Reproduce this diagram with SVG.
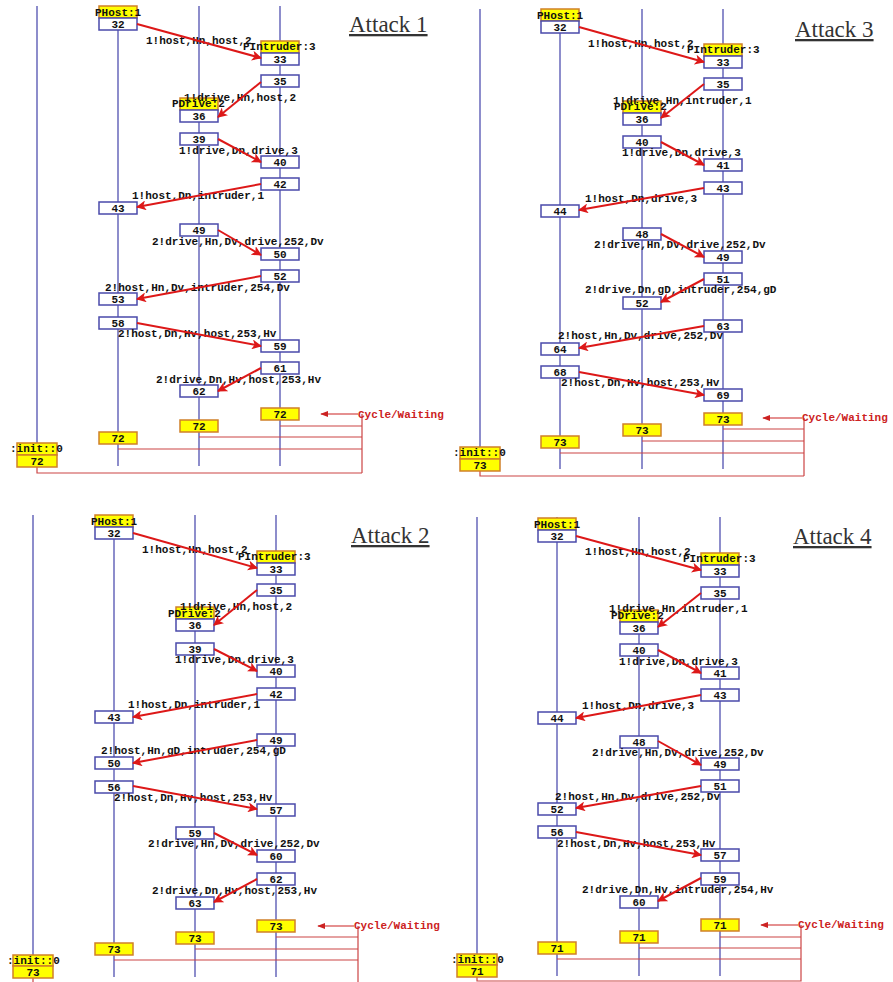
<svg xmlns="http://www.w3.org/2000/svg" width="893" height="982" viewBox="0 0 893 982">
<style>
.ll{stroke:#5050b0;stroke-width:1.3}
.bx rect{fill:#fff;stroke:#4a4aaa;stroke-width:1.5}
.yb rect{fill:#ffff00;stroke:#d08028;stroke-width:1.5}
text{font-family:"Liberation Mono","DejaVu Sans Mono",monospace;font-weight:bold;font-size:11px;fill:#111}
.c{text-anchor:middle}
.m{stroke:#dd1818;stroke-width:2;fill:none;marker-end:url(#ah)}
.lp{stroke:#cc4444;stroke-width:1.2;fill:none}
.cy{stroke:#cc2222;stroke-width:1.2;marker-end:url(#ch)}
.cyt{fill:#cc2222}
.ti{font-family:"Liberation Serif","Times New Roman",serif;font-weight:normal;font-size:23px;fill:#333;text-decoration:underline}
</style>
<defs>
<marker id="ah" viewBox="0 0 10 10" refX="9" refY="5" markerWidth="10" markerHeight="10" markerUnits="userSpaceOnUse" orient="auto"><path d="M0,0 L10,5 L0,10 L2.5,5 z" fill="#dd1818"/></marker>
<marker id="ch" viewBox="0 0 10 10" refX="9" refY="5" markerWidth="8" markerHeight="8" markerUnits="userSpaceOnUse" orient="auto"><path d="M0,1 L10,5 L0,9 z" fill="#cc2222"/></marker>
</defs>
<rect width="893" height="982" fill="#fff"/>

<!-- ================= ATTACK 1 ================= -->
<g id="a1-lifelines">
<line class="ll" x1="37" y1="6" x2="37" y2="443"/>
<line class="ll" x1="118" y1="6" x2="118" y2="466"/>
<line class="ll" x1="199" y1="6" x2="199" y2="466"/>
<line class="ll" x1="280" y1="6" x2="280" y2="466"/>
</g>
<g id="a1-loop">
<path class="lp" d="M362,414 V473 M280,426 H362 M199,437 H362 M118,449 H362 M37,467 V473 H362"/>
<line class="cy" x1="358" y1="414" x2="321" y2="414"/>
<text class="cyt" x="358" y="418">Cycle/Waiting</text>
</g>
<text class="ti" x="349" y="32">Attack 1</text>
<g id="a1-phost" class="yb"><rect x="99" y="6" width="38" height="12"/><text x="95" y="16">PHost:1</text></g>
<g id="a1-pintruder" class="yb"><rect x="261" y="41" width="38" height="12"/><text x="243" y="50">PIntruder:3</text></g>
<g id="a1-pdrive" class="yb"><rect x="180" y="98" width="38" height="12"/><text x="172" y="107">PDrive:2</text></g>
<g id="a1-32" class="bx"><rect x="99" y="18" width="38" height="12"/><text class="c" x="118" y="28">32</text></g>
<g id="a1-33" class="bx"><rect x="261" y="53" width="38" height="12"/><text class="c" x="280" y="63">33</text></g>
<g id="a1-35" class="bx"><rect x="261" y="75" width="38" height="12"/><text class="c" x="280" y="85">35</text></g>
<g id="a1-36" class="bx"><rect x="180" y="110" width="38" height="12"/><text class="c" x="199" y="120">36</text></g>
<g id="a1-39" class="bx"><rect x="180" y="133" width="38" height="12"/><text class="c" x="199" y="143">39</text></g>
<g id="a1-40" class="bx"><rect x="261" y="156" width="38" height="12"/><text class="c" x="280" y="166">40</text></g>
<g id="a1-42" class="bx"><rect x="261" y="178" width="38" height="12"/><text class="c" x="280" y="188">42</text></g>
<g id="a1-43" class="bx"><rect x="99" y="202" width="38" height="12"/><text class="c" x="118" y="212">43</text></g>
<g id="a1-49" class="bx"><rect x="180" y="224" width="38" height="12"/><text class="c" x="199" y="234">49</text></g>
<g id="a1-50" class="bx"><rect x="261" y="248" width="38" height="12"/><text class="c" x="280" y="258">50</text></g>
<g id="a1-52" class="bx"><rect x="261" y="270" width="38" height="12"/><text class="c" x="280" y="280">52</text></g>
<g id="a1-53" class="bx"><rect x="99" y="293" width="38" height="12"/><text class="c" x="118" y="303">53</text></g>
<g id="a1-58" class="bx"><rect x="99" y="317" width="38" height="12"/><text class="c" x="118" y="327">58</text></g>
<g id="a1-59" class="bx"><rect x="261" y="340" width="38" height="12"/><text class="c" x="280" y="350">59</text></g>
<g id="a1-61" class="bx"><rect x="261" y="362" width="38" height="12"/><text class="c" x="280" y="372">61</text></g>
<g id="a1-62" class="bx"><rect x="180" y="385" width="38" height="12"/><text class="c" x="199" y="395">62</text></g>
<g id="a1-72n" class="yb"><rect x="261" y="408" width="38" height="12"/><text class="c" x="280" y="418">72</text></g>
<g id="a1-72d" class="yb"><rect x="180" y="420" width="38" height="12"/><text class="c" x="199" y="430">72</text></g>
<g id="a1-72h" class="yb"><rect x="99" y="432" width="38" height="12"/><text class="c" x="118" y="442">72</text></g>
<g id="a1-init" class="yb"><rect x="17" y="443" width="40" height="12"/><text x="10" y="452">:init::0</text></g>
<g id="a1-72i" class="yb"><rect x="17" y="455" width="40" height="12"/><text class="c" x="37" y="465">72</text></g>
<g id="a1-messages">
<text x="146" y="44">1!host,Hn,host,2</text><line class="m" x1="137" y1="24" x2="261" y2="58"/>
<text x="184" y="101">1!drive,Hn,host,2</text><line class="m" x1="261" y1="82" x2="218" y2="117"/>
<text x="179" y="154">1!drive,Dn,drive,3</text><line class="m" x1="218" y1="139" x2="261" y2="162"/>
<text x="132" y="199">1!host,Dn,intruder,1</text><line class="m" x1="261" y1="184" x2="137" y2="207"/>
<text x="152" y="245">2!drive,Hn,Dv,drive,252,Dv</text><line class="m" x1="218" y1="230" x2="261" y2="255"/>
<text x="105" y="291">2!host,Hn,Dv,intruder,254,Dv</text><line class="m" x1="261" y1="276" x2="137" y2="299"/>
<text x="118" y="337">2!host,Dn,Hv,host,253,Hv</text><line class="m" x1="137" y1="323" x2="261" y2="346"/>
<text x="156" y="383">2!drive,Dn,Hv,host,253,Hv</text><line class="m" x1="261" y1="368" x2="218" y2="391"/>
</g>

<!-- ================= ATTACK 3 ================= -->
<g id="a3-lifelines">
<line class="ll" x1="480" y1="9" x2="480" y2="447"/>
<line class="ll" x1="560" y1="9" x2="560" y2="469"/>
<line class="ll" x1="642" y1="9" x2="642" y2="469"/>
<line class="ll" x1="723" y1="9" x2="723" y2="469"/>
</g>
<g id="a3-loop">
<path class="lp" d="M804,418 V476 M723,429 H804 M642,441 H804 M560,453 H804 M480,471 V476 H804"/>
<line class="cy" x1="802" y1="418" x2="763" y2="418"/>
<text class="cyt" x="802" y="421">Cycle/Waiting</text>
</g>
<text class="ti" x="795" y="37">Attack 3</text>
<g id="a3-phost" class="yb"><rect x="541" y="9" width="38" height="12"/><text x="537" y="19">PHost:1</text></g>
<g id="a3-pintruder" class="yb"><rect x="704" y="44" width="38" height="12"/><text x="687" y="53">PIntruder:3</text></g>
<g id="a3-pdrive" class="yb"><rect x="623" y="101" width="38" height="12"/><text x="614" y="110">PDrive:2</text></g>
<g id="a3-32" class="bx"><rect x="541" y="21" width="38" height="12"/><text class="c" x="560" y="31">32</text></g>
<g id="a3-33" class="bx"><rect x="704" y="56" width="38" height="12"/><text class="c" x="723" y="66">33</text></g>
<g id="a3-35" class="bx"><rect x="704" y="78" width="38" height="12"/><text class="c" x="723" y="88">35</text></g>
<g id="a3-36" class="bx"><rect x="623" y="113" width="38" height="12"/><text class="c" x="642" y="123">36</text></g>
<g id="a3-40" class="bx"><rect x="623" y="136" width="38" height="12"/><text class="c" x="642" y="146">40</text></g>
<g id="a3-41" class="bx"><rect x="704" y="159" width="38" height="12"/><text class="c" x="723" y="169">41</text></g>
<g id="a3-43" class="bx"><rect x="704" y="182" width="38" height="12"/><text class="c" x="723" y="192">43</text></g>
<g id="a3-44" class="bx"><rect x="541" y="205" width="38" height="12"/><text class="c" x="560" y="215">44</text></g>
<g id="a3-48" class="bx"><rect x="623" y="228" width="38" height="12"/><text class="c" x="642" y="238">48</text></g>
<g id="a3-49" class="bx"><rect x="704" y="251" width="38" height="12"/><text class="c" x="723" y="261">49</text></g>
<g id="a3-51" class="bx"><rect x="704" y="273" width="38" height="12"/><text class="c" x="723" y="283">51</text></g>
<g id="a3-52" class="bx"><rect x="623" y="297" width="38" height="12"/><text class="c" x="642" y="307">52</text></g>
<g id="a3-63" class="bx"><rect x="704" y="320" width="38" height="12"/><text class="c" x="723" y="330">63</text></g>
<g id="a3-64" class="bx"><rect x="541" y="343" width="38" height="12"/><text class="c" x="560" y="353">64</text></g>
<g id="a3-68" class="bx"><rect x="541" y="366" width="38" height="12"/><text class="c" x="560" y="376">68</text></g>
<g id="a3-69" class="bx"><rect x="704" y="389" width="38" height="12"/><text class="c" x="723" y="399">69</text></g>
<g id="a3-73n" class="yb"><rect x="704" y="413" width="38" height="12"/><text class="c" x="723" y="423">73</text></g>
<g id="a3-73d" class="yb"><rect x="623" y="424" width="38" height="12"/><text class="c" x="642" y="434">73</text></g>
<g id="a3-73h" class="yb"><rect x="541" y="436" width="38" height="12"/><text class="c" x="560" y="446">73</text></g>
<g id="a3-init" class="yb"><rect x="460" y="447" width="40" height="12"/><text x="453" y="456">:init::0</text></g>
<g id="a3-73i" class="yb"><rect x="460" y="459" width="40" height="12"/><text class="c" x="480" y="469">73</text></g>
<g id="a3-messages">
<text x="588" y="47">1!host,Hn,host,2</text><line class="m" x1="579" y1="27" x2="704" y2="62"/>
<text x="613" y="104">1!drive,Hn,intruder,1</text><line class="m" x1="704" y1="84" x2="661" y2="118"/>
<text x="622" y="156">1!drive,Dn,drive,3</text><line class="m" x1="661" y1="142" x2="704" y2="165"/>
<text x="585" y="202">1!host,Dn,drive,3</text><line class="m" x1="704" y1="188" x2="579" y2="210"/>
<text x="594" y="248">2!drive,Hn,Dv,drive,252,Dv</text><line class="m" x1="661" y1="234" x2="704" y2="257"/>
<text x="585" y="293">2!drive,Dn,gD,intruder,254,gD</text><line class="m" x1="704" y1="279" x2="661" y2="302"/>
<text x="558" y="339">2!host,Hn,Dv,drive,252,Dv</text><line class="m" x1="704" y1="326" x2="579" y2="348"/>
<text x="561" y="386">2!host,Dn,Hv,host,253,Hv</text><line class="m" x1="579" y1="372" x2="704" y2="395"/>
</g>

<!-- ================= ATTACK 2 ================= -->
<g id="a2-lifelines">
<line class="ll" x1="33" y1="515" x2="33" y2="955"/>
<line class="ll" x1="114" y1="515" x2="114" y2="977"/>
<line class="ll" x1="195" y1="515" x2="195" y2="977"/>
<line class="ll" x1="276" y1="515" x2="276" y2="977"/>
</g>
<g id="a2-loop">
<path class="lp" d="M358,926 V982 M276,937 H358 M195,949 H358 M114,960 H358 M33,978 V982"/>
<line class="cy" x1="354" y1="926" x2="318" y2="926"/>
<text class="cyt" x="354" y="929">Cycle/Waiting</text>
</g>
<text class="ti" x="351" y="543">Attack 2</text>
<g id="a2-phost" class="yb"><rect x="95" y="515" width="38" height="12"/><text x="91" y="525">PHost:1</text></g>
<g id="a2-pintruder" class="yb"><rect x="257" y="551" width="38" height="12"/><text x="238" y="560">PIntruder:3</text></g>
<g id="a2-pdrive" class="yb"><rect x="176" y="607" width="38" height="12"/><text x="168" y="617">PDrive:2</text></g>
<g id="a2-32" class="bx"><rect x="95" y="527" width="38" height="12"/><text class="c" x="114" y="537">32</text></g>
<g id="a2-33" class="bx"><rect x="257" y="563" width="38" height="12"/><text class="c" x="276" y="573">33</text></g>
<g id="a2-35" class="bx"><rect x="257" y="584" width="38" height="12"/><text class="c" x="276" y="594">35</text></g>
<g id="a2-36" class="bx"><rect x="176" y="619" width="38" height="12"/><text class="c" x="195" y="629">36</text></g>
<g id="a2-39" class="bx"><rect x="176" y="643" width="38" height="12"/><text class="c" x="195" y="653">39</text></g>
<g id="a2-40" class="bx"><rect x="257" y="665" width="38" height="12"/><text class="c" x="276" y="675">40</text></g>
<g id="a2-42" class="bx"><rect x="257" y="688" width="38" height="12"/><text class="c" x="276" y="698">42</text></g>
<g id="a2-43" class="bx"><rect x="95" y="711" width="38" height="12"/><text class="c" x="114" y="721">43</text></g>
<g id="a2-49" class="bx"><rect x="257" y="734" width="38" height="12"/><text class="c" x="276" y="744">49</text></g>
<g id="a2-50" class="bx"><rect x="95" y="757" width="38" height="12"/><text class="c" x="114" y="767">50</text></g>
<g id="a2-56" class="bx"><rect x="95" y="781" width="38" height="12"/><text class="c" x="114" y="791">56</text></g>
<g id="a2-57" class="bx"><rect x="257" y="804" width="38" height="12"/><text class="c" x="276" y="814">57</text></g>
<g id="a2-59" class="bx"><rect x="176" y="827" width="38" height="12"/><text class="c" x="195" y="837">59</text></g>
<g id="a2-60" class="bx"><rect x="257" y="850" width="38" height="12"/><text class="c" x="276" y="860">60</text></g>
<g id="a2-62" class="bx"><rect x="257" y="873" width="38" height="12"/><text class="c" x="276" y="883">62</text></g>
<g id="a2-63" class="bx"><rect x="176" y="897" width="38" height="12"/><text class="c" x="195" y="907">63</text></g>
<g id="a2-73n" class="yb"><rect x="257" y="920" width="38" height="12"/><text class="c" x="276" y="930">73</text></g>
<g id="a2-73d" class="yb"><rect x="176" y="932" width="38" height="12"/><text class="c" x="195" y="942">73</text></g>
<g id="a2-73h" class="yb"><rect x="95" y="943" width="38" height="12"/><text class="c" x="114" y="953">73</text></g>
<g id="a2-init" class="yb"><rect x="13" y="955" width="40" height="11"/><text x="7" y="964">:init::0</text></g>
<g id="a2-73i" class="yb"><rect x="13" y="966" width="40" height="12"/><text class="c" x="33" y="976">73</text></g>
<g id="a2-messages">
<text x="142" y="553">1!host,Hn,host,2</text><line class="m" x1="133" y1="533" x2="257" y2="568"/>
<text x="180" y="610">1!drive,Hn,host,2</text><line class="m" x1="257" y1="590" x2="214" y2="625"/>
<text x="175" y="663">1!drive,Dn,drive,3</text><line class="m" x1="214" y1="649" x2="257" y2="671"/>
<text x="128" y="708">1!host,Dn,intruder,1</text><line class="m" x1="257" y1="694" x2="133" y2="717"/>
<text x="101" y="754">2!host,Hn,gD,intruder,254,gD</text><line class="m" x1="257" y1="740" x2="133" y2="763"/>
<text x="114" y="801">2!host,Dn,Hv,host,253,Hv</text><line class="m" x1="133" y1="786" x2="257" y2="809"/>
<text x="148" y="847">2!drive,Hn,Dv,drive,252,Dv</text><line class="m" x1="214" y1="833" x2="257" y2="855"/>
<text x="152" y="894">2!drive,Dn,Hv,host,253,Hv</text><line class="m" x1="257" y1="879" x2="214" y2="902"/>
</g>

<!-- ================= ATTACK 4 ================= -->
<g id="a4-lifelines">
<line class="ll" x1="477" y1="517" x2="477" y2="954"/>
<line class="ll" x1="557" y1="517" x2="557" y2="976"/>
<line class="ll" x1="639" y1="517" x2="639" y2="976"/>
<line class="ll" x1="720" y1="517" x2="720" y2="976"/>
</g>
<g id="a4-loop">
<path class="lp" d="M801,925 V981 H477 V977 M720,937 H801 M639,948 H801 M557,959 H801"/>
<line class="cy" x1="798" y1="925" x2="761" y2="925"/>
<text class="cyt" x="798" y="928">Cycle/Waiting</text>
</g>
<text class="ti" x="793" y="544">Attack 4</text>
<g id="a4-phost" class="yb"><rect x="538" y="518" width="38" height="12"/><text x="534" y="528">PHost:1</text></g>
<g id="a4-pintruder" class="yb"><rect x="701" y="553" width="38" height="12"/><text x="683" y="562">PIntruder:3</text></g>
<g id="a4-pdrive" class="yb"><rect x="620" y="610" width="38" height="12"/><text x="611" y="619">PDrive:2</text></g>
<g id="a4-32" class="bx"><rect x="538" y="530" width="38" height="12"/><text class="c" x="557" y="540">32</text></g>
<g id="a4-33" class="bx"><rect x="701" y="565" width="38" height="12"/><text class="c" x="720" y="575">33</text></g>
<g id="a4-35" class="bx"><rect x="701" y="587" width="38" height="12"/><text class="c" x="720" y="597">35</text></g>
<g id="a4-36" class="bx"><rect x="620" y="622" width="38" height="12"/><text class="c" x="639" y="632">36</text></g>
<g id="a4-40" class="bx"><rect x="620" y="644" width="38" height="12"/><text class="c" x="639" y="654">40</text></g>
<g id="a4-41" class="bx"><rect x="701" y="667" width="38" height="12"/><text class="c" x="720" y="677">41</text></g>
<g id="a4-43" class="bx"><rect x="701" y="689" width="38" height="12"/><text class="c" x="720" y="699">43</text></g>
<g id="a4-44" class="bx"><rect x="538" y="712" width="38" height="12"/><text class="c" x="557" y="722">44</text></g>
<g id="a4-48" class="bx"><rect x="620" y="736" width="38" height="12"/><text class="c" x="639" y="746">48</text></g>
<g id="a4-49" class="bx"><rect x="701" y="758" width="38" height="12"/><text class="c" x="720" y="768">49</text></g>
<g id="a4-51" class="bx"><rect x="701" y="780" width="38" height="12"/><text class="c" x="720" y="790">51</text></g>
<g id="a4-52" class="bx"><rect x="538" y="803" width="38" height="12"/><text class="c" x="557" y="813">52</text></g>
<g id="a4-56" class="bx"><rect x="538" y="826" width="38" height="12"/><text class="c" x="557" y="836">56</text></g>
<g id="a4-57" class="bx"><rect x="701" y="849" width="38" height="12"/><text class="c" x="720" y="859">57</text></g>
<g id="a4-59" class="bx"><rect x="701" y="873" width="38" height="12"/><text class="c" x="720" y="883">59</text></g>
<g id="a4-60" class="bx"><rect x="620" y="896" width="38" height="12"/><text class="c" x="639" y="906">60</text></g>
<g id="a4-71n" class="yb"><rect x="701" y="919" width="38" height="12"/><text class="c" x="720" y="929">71</text></g>
<g id="a4-71d" class="yb"><rect x="620" y="931" width="38" height="12"/><text class="c" x="639" y="941">71</text></g>
<g id="a4-71h" class="yb"><rect x="538" y="942" width="38" height="12"/><text class="c" x="557" y="952">71</text></g>
<g id="a4-init" class="yb"><rect x="457" y="954" width="40" height="11"/><text x="451" y="963">:init::0</text></g>
<g id="a4-71i" class="yb"><rect x="457" y="965" width="40" height="12"/><text class="c" x="477" y="975">71</text></g>
<g id="a4-messages">
<text x="585" y="555">1!host,Hn,host,2</text><line class="m" x1="576" y1="536" x2="701" y2="570"/>
<text x="609" y="612">1!drive,Hn,intruder,1</text><line class="m" x1="701" y1="593" x2="658" y2="627"/>
<text x="619" y="665">1!drive,Dn,drive,3</text><line class="m" x1="658" y1="650" x2="701" y2="673"/>
<text x="582" y="709">1!host,Dn,drive,3</text><line class="m" x1="701" y1="695" x2="576" y2="718"/>
<text x="592" y="756">2!drive,Hn,Dv,drive,252,Dv</text><line class="m" x1="658" y1="741" x2="701" y2="765"/>
<text x="555" y="800">2!host,Hn,Dv,drive,252,Dv</text><line class="m" x1="701" y1="786" x2="576" y2="808"/>
<text x="557" y="847">2!host,Dn,Hv,host,253,Hv</text><line class="m" x1="576" y1="832" x2="701" y2="855"/>
<text x="582" y="893">2!drive,Dn,Hv,intruder,254,Hv</text><line class="m" x1="701" y1="878" x2="658" y2="901"/>
</g>
</svg>
